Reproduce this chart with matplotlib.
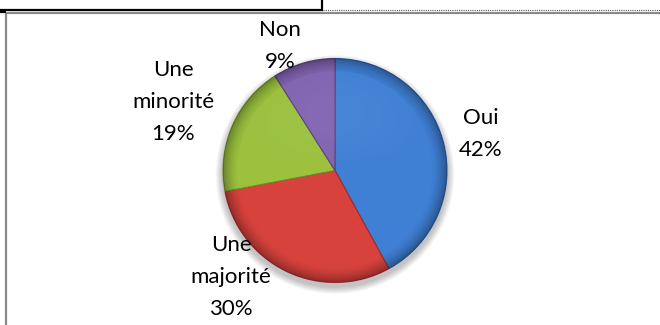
import numpy as np
import matplotlib.pyplot as plt
from matplotlib.patches import Circle

# answers to the question, read clockwise from 12 o'clock
answers = ['Oui', 'Une\nmajorité', 'Une\nminorité', 'Non']
shares = [42, 30, 19, 9]
colors = ['#3f7fd4', '#d8423d', '#9bc13e', '#8163b0']
edges = ['#2a5a9e', '#9e2c28', '#6d8a2a', '#57417e']

W, H = 660, 325
cx, cy, R = 335, H - 170.5, 112

# where each label sits (pixel x, pixel y of the text centre)
label_xy = [(481, 134), (231, 277), (173, 102), (280, 46)]

plt.rcParams['font.family'] = ['Lato', 'DejaVu Sans']

fig = plt.figure(figsize=(W / 100, H / 100), dpi=100)
ax = fig.add_axes([0, 0, 1, 1])

# soft drop shadow under the pie
for k in range(8):
    ax.add_patch(Circle((cx, cy - 4), R + 1 + k * 0.9, color='#000000',
                        alpha=0.03, lw=0, zorder=1))

wedges, _ = ax.pie(shares, colors=colors, startangle=90, counterclock=False,
                   center=(cx, cy), radius=R, frame=True,
                   wedgeprops=dict(linewidth=0.8, zorder=2))
for w, ec in zip(wedges, edges):
    w.set_edgecolor(ec)
ax.set_xlim(0, W)
ax.set_ylim(0, H)
ax.axis('off')

# bevel: darker rim and a light sheen towards the top
n = 400
gx, gy = np.meshgrid(np.linspace(-1, 1, n), np.linspace(-1, 1, n))
rr = np.hypot(gx, gy)
shade = np.zeros((n, n, 4))
rim = np.clip((rr - 0.86) / 0.14, 0, 1) ** 1.6 * 0.32
sheen = np.clip(gy, 0, 1) * np.clip(1 - rr, 0, 1) * 0.18
alpha = rim + sheen
shade[..., :3] = np.where((rim > sheen)[..., None], 0.0, 1.0)
shade[..., 3] = np.clip(alpha, 0, 1)
img = ax.imshow(shade, extent=(cx - R, cx + R, cy - R, cy + R), origin='lower',
                zorder=3, interpolation='bilinear')
img.set_clip_path(Circle((cx, cy), R, transform=ax.transData))

for name, v, (px, py) in zip(answers, shares, label_xy):
    ax.text(px, H - py, f'{name}\n{v}%', ha='center', va='center',
            fontsize=16, linespacing=1.72, color='black', zorder=5)

# table and chart borders around the picture
ax.plot([0, 323], [H - 10, H - 10], color='black', lw=1.6, solid_capstyle='butt')
ax.plot([322, 322], [H - 10, H], color='black', lw=1.6, solid_capstyle='butt')
ax.plot([323, W], [H - 10, H - 10], color='#555555', lw=0.8, ls=(0, (1, 1)))
ax.plot([5.5, W], [H - 12.5, H - 12.5], color='#8a8a8a', lw=1.6, solid_capstyle='butt')
ax.plot([5.5, 5.5], [0, H - 12.5], color='#8a8a8a', lw=1.6, solid_capstyle='butt')
ax.plot([0, 6], [H - 12, H - 12], color='black', lw=1.6, solid_capstyle='butt')

fig.savefig('out.png', dpi=100)
